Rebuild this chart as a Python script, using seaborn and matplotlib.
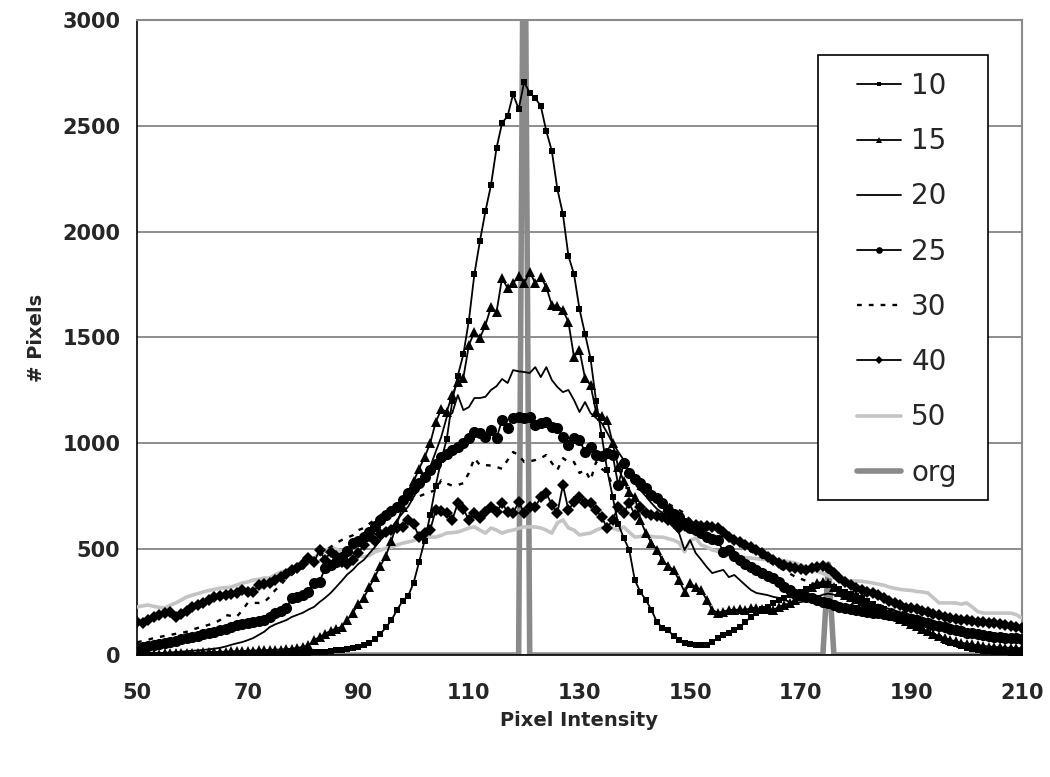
import matplotlib
matplotlib.use("Agg")
import matplotlib.pyplot as plt
from matplotlib.patches import Rectangle
import seaborn as sns
import numpy as np

intensity = list(range(50, 211))

s10 = [0,0,0,0,0,1,1,1,1,1,
       2,2,2,2,3,3,3,3,4,4,
       4,5,5,5,6,6,7,8,8,9,
       10,11,12,14,16,18,22,26,30,34,
       40,48,58,75,100,130,165,212,255,278,
       340,440,540,660,800,920,1020,1200,1320,1420,
       1580,1800,1956,2097,2220,2395,2513,2546,2650,2579,
       2707,2655,2631,2593,2475,2381,2201,2083,1885,1800,
       1634,1516,1400,1200,1040,874,746,620,553,496,
       354,298,260,213,156,128,118,90,70,58,
       50,47,45,47,61,80,95,104,120,132,
       156,180,198,215,227,245,260,269,283,292,
       298,310,321,325,330,335,320,310,300,290,
       280,268,255,240,228,215,200,185,170,155,
       140,128,115,102,90,78,68,58,50,42,
       35,30,25,21,18,15,13,12,11,10,
       9]

s15 = [5,5,6,6,7,8,8,9,10,10,
       10,11,12,13,14,15,16,17,18,19,
       20,21,22,23,24,25,26,28,30,34,
       38,45,70,85,100,115,125,132,165,200,
       240,270,320,370,420,470,540,620,700,750,
       820,880,935,1000,1100,1160,1150,1230,1290,1310,
       1464,1526,1498,1559,1644,1620,1781,1733,1757,1790,
       1757,1809,1757,1785,1738,1653,1648,1630,1573,1408,
       1441,1308,1275,1148,1130,1110,1000,888,820,770,
       746,638,576,530,496,449,420,402,354,298,
       340,320,307,260,213,200,205,213,213,215,
       213,222,222,215,218,213,225,236,245,260,
       280,300,320,340,345,340,320,300,285,275,
       265,255,245,232,220,210,198,185,172,160,
       148,136,124,112,100,90,80,72,64,58,
       54,50,46,43,40,38,36,35,34,33,
       32]

s20 = [5,6,7,8,9,10,12,14,16,18,
       20,22,24,27,30,34,40,48,55,61,
       70,80,95,110,132,145,155,165,180,190,
       200,215,227,250,270,293,321,350,380,402,
       430,449,480,510,543,570,600,638,670,700,
       746,790,840,888,960,1030,1124,1143,1228,1157,
       1171,1214,1214,1220,1252,1270,1304,1285,1346,1340,
       1337,1332,1360,1313,1360,1299,1266,1242,1252,1205,
       1148,1195,1143,1120,1096,1050,1001,960,921,860,
       830,779,750,718,690,671,640,605,576,496,
       543,482,450,416,387,395,402,368,378,354,
       330,307,293,288,283,275,270,260,252,245,
       250,255,265,275,285,290,285,278,270,262,
       255,250,245,240,232,225,218,210,202,195,
       188,180,172,164,156,148,140,132,124,116,
       108,102,96,90,85,80,75,70,66,63,
       60]

s25 = [33,38,42,47,52,56,61,68,74,80,
       85,92,98,104,109,118,125,132,140,146,
       151,158,162,165,180,198,210,222,269,275,
       283,300,340,345,411,425,440,463,490,529,
       540,557,580,610,638,660,680,699,730,765,
       790,812,840,874,900,935,950,968,982,1001,
       1025,1053,1049,1030,1063,1025,1110,1072,1120,1124,
       1120,1124,1086,1096,1101,1077,1072,1030,992,1025,
       1016,959,982,945,940,954,945,803,907,860,
       830,812,789,756,742,718,685,665,652,624,
       600,590,575,557,550,543,487,496,470,449,
       430,416,400,387,375,364,345,321,305,290,
       283,276,269,258,250,245,236,227,220,216,
       213,208,203,200,198,195,190,185,180,175,
       170,164,158,150,143,136,130,124,118,112,
       106,102,98,94,90,87,84,82,80,78,
       76]

s30 = [60,66,72,80,85,90,95,100,104,110,
       120,128,135,143,151,165,189,185,180,210,
       246,246,246,250,275,307,330,364,380,402,
       410,430,450,470,490,510,529,543,555,565,
       590,600,620,640,660,680,700,710,722,730,
       740,750,760,770,779,826,810,800,803,812,
       860,930,897,897,895,888,880,921,959,945,
       912,915,921,930,945,907,874,930,912,912,
       860,874,826,912,880,860,800,780,790,789,
       789,780,770,765,748,732,715,700,685,670,
       638,630,620,605,595,585,576,560,540,520,
       500,490,475,460,445,430,415,400,385,370,
       360,350,340,330,325,320,310,300,290,280,
       275,265,255,245,237,230,220,212,205,198,
       190,182,174,166,158,150,142,134,126,118,
       110,104,98,92,86,80,76,72,68,64,
       60]

s40 = [156,151,165,180,190,198,203,180,195,210,
       227,235,246,260,274,280,283,290,293,307,
       300,298,331,335,340,354,370,385,402,411,
       430,458,439,496,449,487,470,440,430,450,
       480,520,560,540,570,581,590,600,605,638,
       620,557,575,590,685,680,671,638,718,690,
       638,671,647,675,699,675,718,675,671,723,
       671,699,699,746,765,709,671,803,685,723,
       746,718,718,685,652,600,640,700,671,718,
       661,699,671,660,655,652,640,625,600,610,
       620,615,610,608,605,600,580,557,545,534,
       520,510,496,480,463,450,435,425,416,410,
       405,402,410,416,420,410,387,365,345,330,
       316,305,300,293,285,270,255,246,235,222,
       222,215,210,203,195,188,180,175,170,165,
       165,160,158,156,153,151,148,140,135,130,
       128]

s50 = [227,232,236,230,225,222,235,246,260,274,
       283,290,298,305,310,316,318,321,330,340,
       345,354,358,364,364,380,392,398,402,410,
       420,435,455,482,490,510,500,490,482,475,
       470,463,470,487,495,505,510,520,528,534,
       540,553,555,557,557,565,576,578,581,590,
       600,605,590,576,600,590,576,585,590,598,
       605,605,605,600,590,576,624,638,600,590,
       567,572,576,590,600,605,600,590,605,580,
       557,560,567,560,557,557,550,543,530,487,
       540,553,520,510,496,490,480,470,463,460,
       460,458,455,452,450,449,449,445,440,435,
       425,415,405,395,385,375,365,360,354,350,
       350,348,345,340,335,330,321,315,310,307,
       305,300,298,293,270,246,246,246,246,240,
       246,227,205,198,198,198,198,198,198,190,
       175]

org = [0] * 161
org[120 - 50] = 4200
org[175 - 50] = 430

labels = ["10", "15", "20", "25", "30", "40", "50", "org"]
x_ticks = [50, 70, 90, 110, 130, 150, 170, 190, 210]
y_ticks = [0, 500, 1000, 1500, 2000, 2500, 3000]

sns.set_style("white")
plt.rcParams['font.family'] = ['DejaVu Sans']

fig = plt.figure(figsize=(10.5, 7.77), dpi=100)
ax = fig.add_axes([0.1305, 0.157, 0.8428, 0.8173])

styles = {
    "10": dict(color="black", lw=1.3, marker="s", ms=5, ls="-"),
    "15": dict(color="black", lw=1.3, marker="^", ms=7.5, ls="-"),
    "20": dict(color="black", lw=1.3, marker=None, ms=0, ls="-"),
    "25": dict(color="black", lw=1.3, marker="o", ms=8, ls="-"),
    "30": dict(color="black", lw=1.7, marker=None, ms=0, ls=(0, (2, 3))),
    "40": dict(color="black", lw=1.3, marker="D", ms=6.5, ls="-"),
    "50": dict(color="#c4c4c4", lw=2.6, marker=None, ms=0, ls="-"),
    "org": dict(color="#8a8a8a", lw=4.0, marker=None, ms=0, ls="-"),
}
series = {"10": s10, "15": s15, "20": s20, "25": s25, "30": s30,
          "40": s40, "50": s50, "org": org}
zorders = {"org": 2, "50": 3, "40": 4, "30": 5, "25": 6, "20": 7, "15": 8, "10": 9}

handles = {}
for name in ["org", "50", "40", "30", "25", "20", "15", "10"]:
    st = styles[name]
    sns.lineplot(x=intensity, y=series[name], ax=ax, color=st["color"],
                 linewidth=st["lw"], linestyle=st["ls"], marker=st["marker"],
                 markersize=st["ms"], markeredgewidth=0, zorder=zorders[name],
                 label=name, legend=False, clip_on=True)
    handles[name] = ax.lines[-1]

ax.set_xlim(50, 210)
ax.set_ylim(0, 3000)
ax.set_xticks(x_ticks)
ax.set_yticks(y_ticks)
ax.set_xticklabels([str(t) for t in x_ticks], fontweight="bold")
ax.set_yticklabels([str(t) for t in y_ticks], fontweight="bold")
ax.tick_params(axis="both", labelsize=15, direction="out", length=6, width=1,
               color="black", pad=14)
ax.tick_params(axis="y", pad=6)
ax.yaxis.grid(True, color="#7a7a7a", linewidth=1.2)
ax.set_axisbelow(True)

for side in ["top", "right"]:
    ax.spines[side].set_color("#8a8a8a")
    ax.spines[side].set_linewidth(1.5)
ax.spines["left"].set_color("black")
ax.spines["left"].set_linewidth(1.2)
ax.spines["bottom"].set_color("black")
ax.spines["bottom"].set_linewidth(1.2)

ax.set_xlabel("Pixel Intensity", fontsize=14, fontweight="bold", labelpad=6)
ax.set_ylabel("# Pixels", fontsize=14, fontweight="bold", labelpad=12)

# legend frame drawn as a plain box, entries placed inside it
frame = Rectangle((0.7695, 0.2441), 0.9616 - 0.7695, 0.9449 - 0.2441,
                  transform=ax.transAxes, facecolor="white", edgecolor="black",
                  linewidth=1.2, zorder=19, clip_on=False)
ax.add_patch(frame)
leg = ax.legend([handles[n] for n in labels], labels, loc="upper left",
                bbox_to_anchor=(0.8136, 0.918), fontsize=20, frameon=False,
                handlelength=1.6, labelspacing=0.98, borderpad=0,
                handletextpad=0.35, borderaxespad=0, markerscale=0.6)
leg.set_zorder(20)

fig.savefig("out.png", dpi=100)
